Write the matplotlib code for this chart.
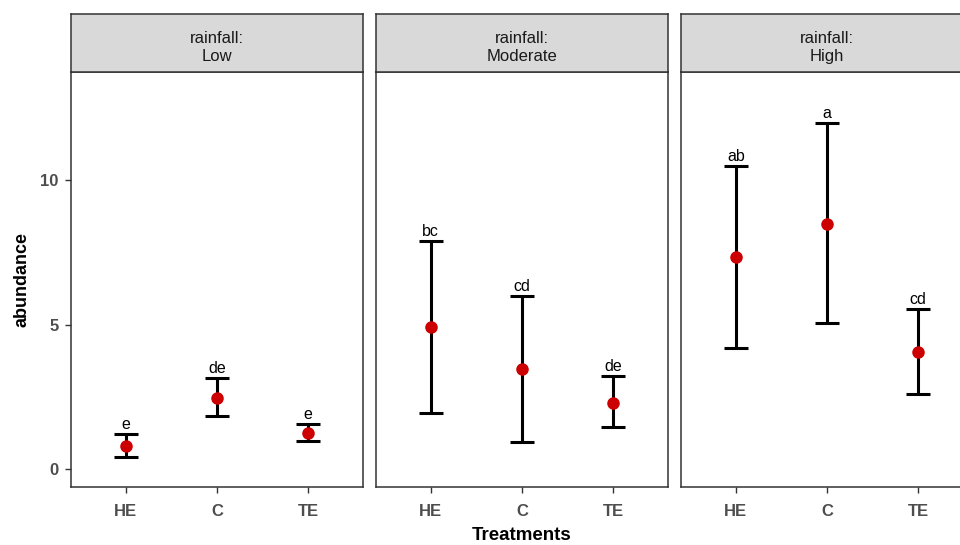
import numpy as np
import matplotlib.pyplot as plt

plt.rcParams['font.family'] = ['Liberation Sans', 'DejaVu Sans']

# data
rainfall = ['Low', 'Moderate', 'High']
treatments = ['HE', 'C', 'TE']
means = {
    'Low': [0.8, 2.45, 1.25],
    'Moderate': [4.9, 3.45, 2.3],
    'High': [7.35, 8.48, 4.05],
}
lower = {
    'Low': [0.42, 1.84, 0.97],
    'Moderate': [1.95, 0.94, 1.45],
    'High': [4.2, 5.04, 2.6],
}
upper = {
    'Low': [1.21, 3.15, 1.56],
    'Moderate': [7.88, 5.99, 3.22],
    'High': [10.5, 11.98, 5.55],
}
letters = {
    'Low': ['e', 'de', 'e'],
    'Moderate': ['bc', 'cd', 'de'],
    'High': ['ab', 'a', 'cd'],
}

W, H = 960, 545
fig = plt.figure(figsize=(W / 100, H / 100), dpi=100)

panel_left = [71, 376, 681]
panel_w = 292
panel_top, panel_bot = 72, 487
strip_top = 14

tick_col = '#4D4D4D'
x = np.arange(1, 4)

for i, r in enumerate(rainfall):
    l = panel_left[i]
    ax = fig.add_axes([l / W, (H - panel_bot) / H, panel_w / W, (panel_bot - panel_top) / H])
    m = np.array(means[r])
    lo = np.array(lower[r])
    up = np.array(upper[r])
    ax.errorbar(x, m, yerr=[m - lo, up - m], fmt='none', ecolor='black',
                elinewidth=2.2, capsize=8.6, capthick=2.2, zorder=2)
    ax.plot(x, m, 'o', color='#CC0000', markersize=8, zorder=3)
    for xi, ui, t in zip(x, up, letters[r]):
        ax.annotate(t, (xi, ui), xytext=(0, 1.5), textcoords='offset points',
                    ha='center', va='bottom', fontsize=11.5, color='black')
    ax.set_xlim(0.4, 3.6)
    ax.set_ylim(-0.62, 13.74)
    ax.set_xticks(x)
    ax.set_xticklabels(treatments, fontsize=12, fontweight='bold', color=tick_col)
    ax.set_yticks([0, 5, 10])
    if i == 0:
        ax.set_yticklabels(['0', '5', '10'], fontsize=12, fontweight='bold', color=tick_col)
        ax.set_ylabel('abundance', fontsize=13, fontweight='bold', labelpad=7)
    else:
        ax.tick_params(axis='y', left=False, labelleft=False)
    ax.tick_params(axis='both', color='#333333', length=4, width=1)
    ax.tick_params(axis='x', pad=8)
    ax.tick_params(axis='y', pad=5)
    for s in ax.spines.values():
        s.set_color('#333333')
        s.set_linewidth(1.1)
    if i == 1:
        ax.set_xlabel('Treatments', fontsize=13.5, fontweight='bold', labelpad=6)

    # facet strip
    sax = fig.add_axes([l / W, (H - panel_top) / H, panel_w / W, (panel_top - strip_top) / H])
    sax.set_facecolor('#D9D9D9')
    sax.set_xticks([])
    sax.set_yticks([])
    for s in sax.spines.values():
        s.set_color('#333333')
        s.set_linewidth(1.1)
    sax.text(0.5, 0.42, 'rainfall:\n' + r, ha='center', va='center', fontsize=12,
             color='#1A1A1A', transform=sax.transAxes, linespacing=1.3)

fig.savefig('out.png', dpi=100)
